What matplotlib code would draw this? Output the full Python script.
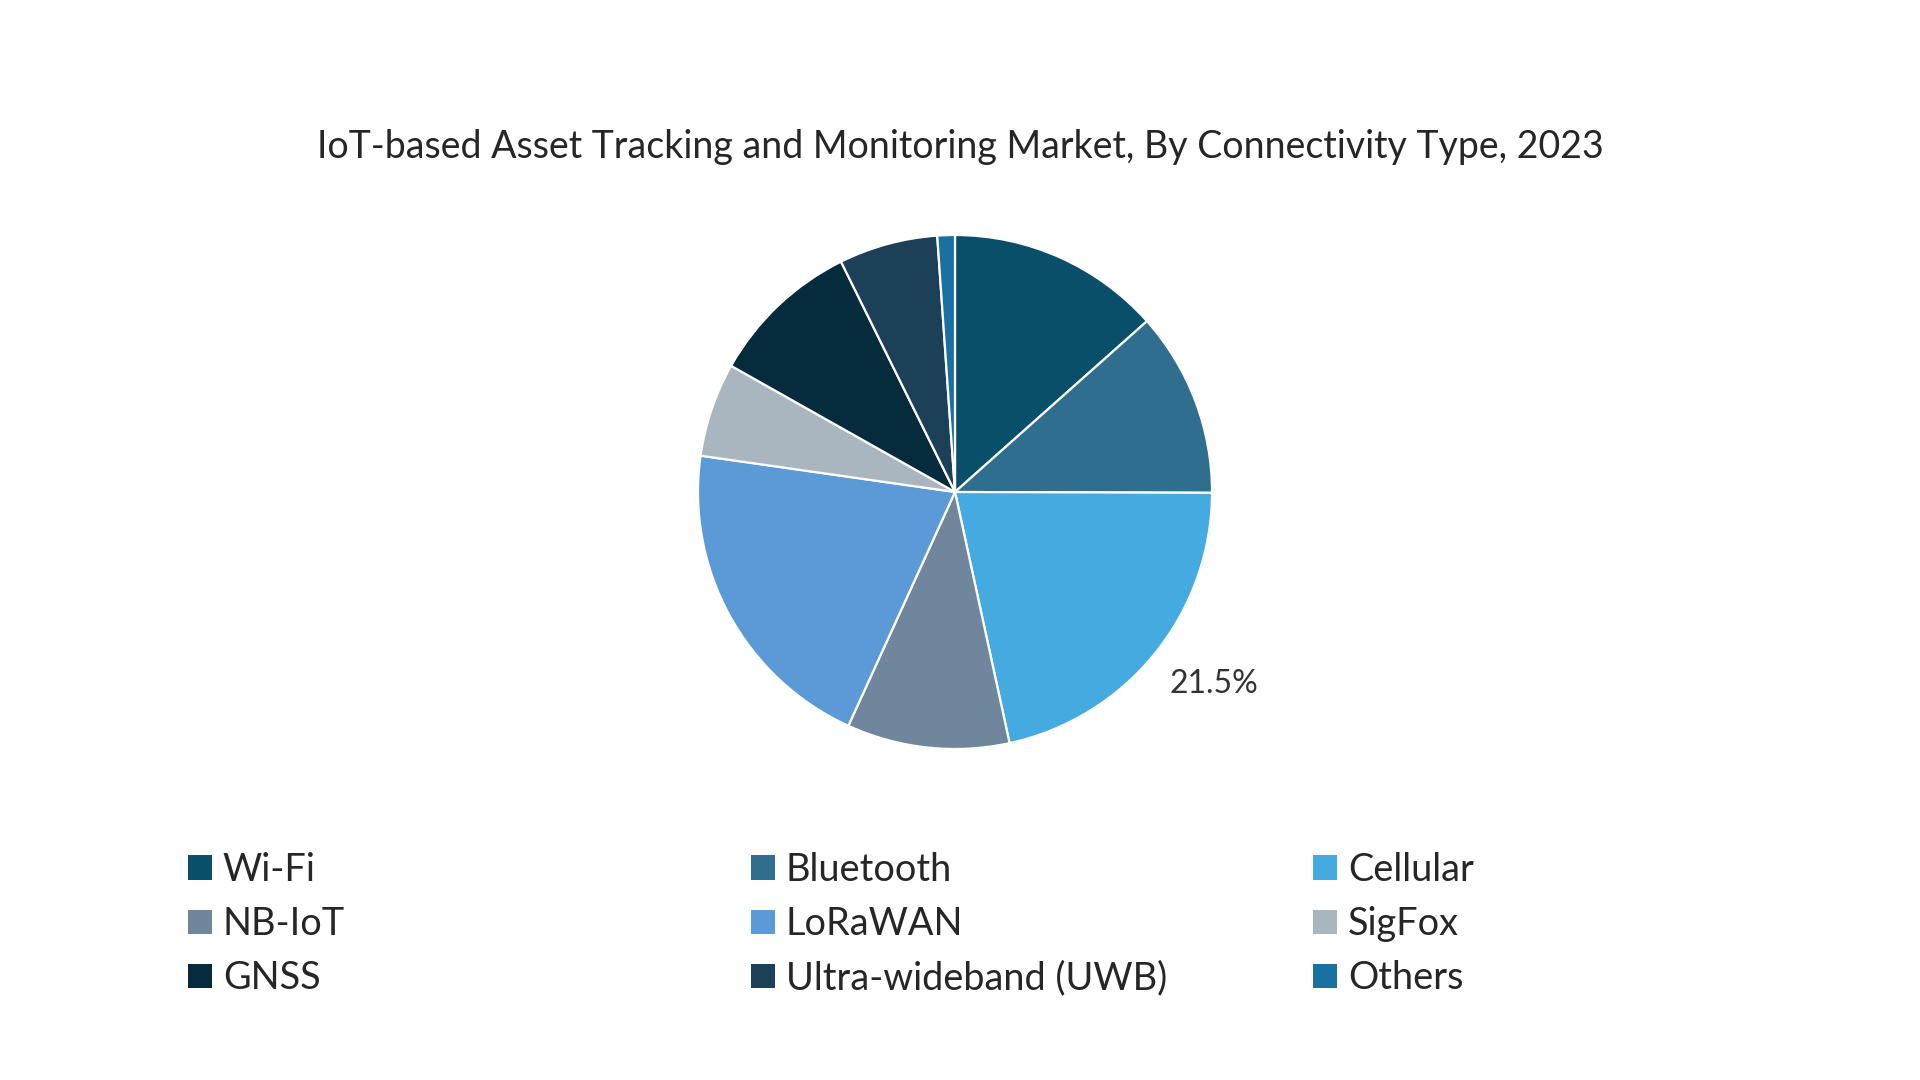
import numpy as np
import matplotlib
matplotlib.use("Agg")
import matplotlib.pyplot as plt
from matplotlib.patches import Patch

# ---- data ----
categories = ["Wi-Fi", "Bluetooth", "Cellular", "NB-IoT", "LoRaWAN",
              "SigFox", "GNSS", "Ultra-wideband (UWB)", "Others"]
shares = [13.4, 11.6, 21.5, 10.2, 20.4, 5.9, 9.5, 6.2, 1.1]
colors = ["#0A4F6A", "#2F6E8F", "#45AAE0", "#70869C", "#5B9AD6",
          "#A9B5BF", "#062B3C", "#1D4059", "#1B70A2"]
labeled = {"Cellular": "21.5%"}
title = "IoT-based Asset Tracking and Monitoring Market, By Connectivity Type, 2023"

plt.rcParams['font.family'] = ['Lato', 'DejaVu Sans']

W, H = 1920, 1080
fig = plt.figure(figsize=(W / 100, H / 100), dpi=100)
fig.patch.set_facecolor("white")

cx, cy, r = 955, 492, 257
ax = fig.add_axes([(cx - r) / W, (H - cy - r) / H, 2 * r / W, 2 * r / H])
wedges, _ = ax.pie(shares, colors=colors, startangle=90, counterclock=False,
                   radius=1.0, wedgeprops=dict(edgecolor="white", linewidth=1.6))
ax.set_xlim(-1, 1)
ax.set_ylim(-1, 1)
ax.set_aspect("auto")
ax.axis("off")

for w, cat in zip(wedges, categories):
    if cat in labeled:
        mid = np.deg2rad((w.theta1 + w.theta2) / 2 + 2.4)
        ax.text(1.255 * np.cos(mid), 1.255 * np.sin(mid), labeled[cat],
                ha="center", va="center", fontsize=23, color="#333333",
                clip_on=False)

fig.text(0.5, 1 - 147 / H, title, ha="center", va="center",
         fontsize=27, color="#262626")

# legend: three columns, row-major order
col_x = [200, 763, 1325]
top_y = 880
for c in range(3):
    idx = [c, c + 3, c + 6]
    handles = [Patch(facecolor=colors[i], edgecolor="none") for i in idx]
    labels = [categories[i] for i in idx]
    fig.legend(handles, labels, loc="upper left",
               bbox_to_anchor=((col_x[c] - 12) / W, 1 - (top_y - 28) / H),
               frameon=False, fontsize=27.3, handlelength=0.62, handleheight=0.62,
               handletextpad=0.3, labelspacing=0.48, labelcolor="#262626",
               borderaxespad=0, borderpad=0)

fig.savefig("out.png", dpi=100, facecolor="white")
